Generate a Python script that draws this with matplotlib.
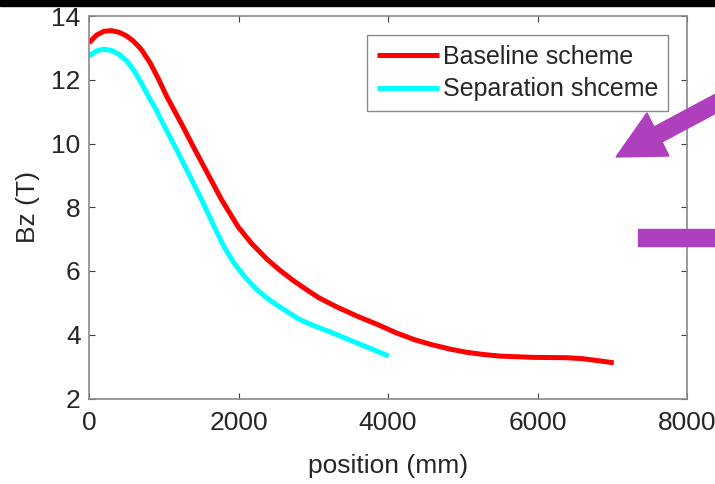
import matplotlib
matplotlib.use('Agg')
import matplotlib.pyplot as plt
from matplotlib.patches import Polygon, Rectangle

plt.rcParams['font.family'] = ['Liberation Sans', 'DejaVu Sans']

# values
red_pos = [0, 100, 200, 300, 400, 500, 600, 700, 820, 930, 1039, 1230, 1418, 1600,
           1775, 1997, 2180, 2377, 2550, 2733, 2900, 3068, 3300, 3580, 3850, 4120,
           4360, 4600, 4830, 5050, 5280, 5500, 5950, 6390, 6600, 6800, 7020]
red_bz = [13.16, 13.40, 13.52, 13.54, 13.49, 13.38, 13.20, 12.95, 12.52, 12.02,
          11.48, 10.65, 9.80, 9.00, 8.23, 7.38, 6.85, 6.38, 6.03, 5.70, 5.43, 5.17,
          4.89, 4.59, 4.33, 4.05, 3.84, 3.68, 3.55, 3.45, 3.38, 3.33, 3.29, 3.28,
          3.25, 3.19, 3.12]

cyan_pos = [0, 100, 190, 300, 400, 500, 600, 700, 790, 900, 1000, 1090, 1173, 1340,
            1508, 1663, 1797, 1930, 2090, 2243, 2420, 2599, 2823, 3046, 3268, 3492,
            3714, 4010]
cyan_bz = [12.75, 12.90, 12.96, 12.92, 12.80, 12.60, 12.30, 11.90, 11.50, 11.05,
           10.58, 10.17, 9.80, 9.02, 8.23, 7.45, 6.80, 6.28, 5.80, 5.42, 5.08, 4.80,
           4.47, 4.25, 4.05, 3.83, 3.62, 3.33]

labels = ['Baseline scheme', 'Separation shceme']
xticks = [0, 2000, 4000, 6000, 8000]
yticks = [2, 4, 6, 8, 10, 12, 14]

W, H = 715, 484
fig = plt.figure(figsize=(W / 100, H / 100), dpi=100)
ax = fig.add_axes([89 / W, 1 - 398.5 / H, 598 / W, 382.5 / H])

ax.plot(red_pos, red_bz, color='#ff0000', lw=3.6, label=labels[0],
        solid_capstyle='butt', solid_joinstyle='round')
ax.plot(cyan_pos, cyan_bz, color='#00ffff', lw=3.6, label=labels[1],
        solid_capstyle='butt', solid_joinstyle='round')

ax.set_xlim(0, 8000)
ax.set_ylim(2, 14)
ax.set_xticks(xticks)
ax.set_yticks(yticks)
ax.tick_params(direction='in', length=4, width=0.8, color='#404040',
               labelsize=19, labelcolor='#262626', top=True, right=True)
ax.tick_params(axis='x', pad=9)
ax.tick_params(axis='y', pad=6)
for s in ax.spines.values():
    s.set_color('#8a8a8a')
    s.set_linewidth(1.2)

ax.set_xlabel('position (mm)', fontsize=19, color='#262626', labelpad=14)
ax.set_ylabel('Bz (T)', fontsize=19, color='#262626', labelpad=8)

leg = ax.legend(loc='upper right', bbox_to_anchor=(0.968, 0.950), borderaxespad=0,
                fontsize=18, fancybox=False, handlelength=2.5, handletextpad=0.15,
                labelspacing=0.35, borderpad=0.38, framealpha=1)
leg.get_frame().set_edgecolor('#8a8a8a')
leg.get_frame().set_linewidth(1.0)
for t in leg.get_texts():
    t.set_color('#262626')

# overlays on the picture: black strip, purple arrow and bar
def fx(p):
    return (p[0] / W, 1 - p[1] / H)

purple = '#ae40be'
fig.patches.append(Rectangle((0, 1 - 6 / H), 1, 6 / H, transform=fig.transFigure,
                             color='black', zorder=10))
arrow = [(616, 157), (669, 156), (662, 142), (733, 104), (725, 89), (654, 127), (647, 113)]
fig.patches.append(Polygon([fx(p) for p in arrow], closed=True, transform=fig.transFigure,
                           color=purple, zorder=10))
fig.patches.append(Rectangle(fx((638, 246)), 77 / W, 17 / H, transform=fig.transFigure,
                             color=purple, zorder=10))

fig.savefig('out.png', dpi=100)
